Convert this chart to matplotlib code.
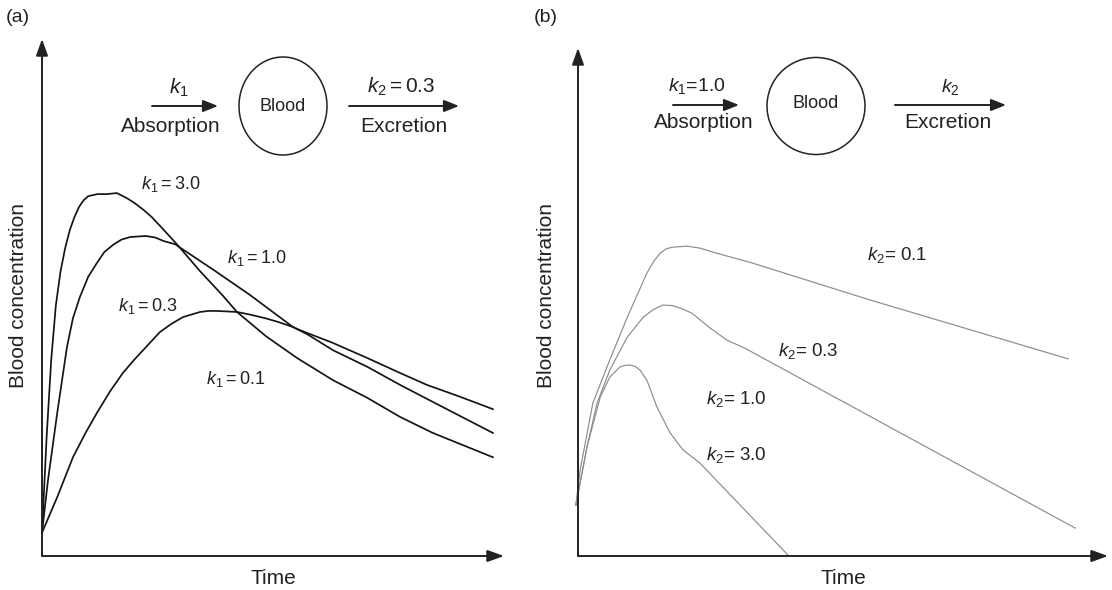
import matplotlib.pyplot as plt
from matplotlib.patches import Ellipse

plt.rcParams["font.family"] = ["Liberation Sans", "DejaVu Sans"]
plt.rcParams["mathtext.fontset"] = "custom"
plt.rcParams["mathtext.rm"] = "Liberation Sans"
plt.rcParams["mathtext.it"] = "Liberation Sans:italic"

W, H = 1112, 590

# panel (a): k2 = 0.3 fixed, absorption rate varies (arbitrary time / concentration units)
a_fast_t = [0.0, 0.1, 0.2, 0.3, 0.4, 0.5, 0.6, 0.7, 0.8, 0.9, 1.0, 1.2, 1.41, 1.62, 1.84,
            2.0, 2.19, 2.37, 2.55, 2.92, 3.42, 3.92, 4.22, 4.85, 5.52, 6.30, 7.04, 7.75,
            8.46, 9.76]
a_fast_c = [0.45, 2.3, 3.8, 4.85, 5.5, 5.95, 6.3, 6.55, 6.75, 6.88, 6.96, 7.00, 7.00, 7.02,
            6.92, 6.83, 6.70, 6.56, 6.39, 6.03, 5.51, 5.03, 4.72, 4.25, 3.83, 3.40, 3.06,
            2.69, 2.38, 1.91]
a_mid_t = [0.0, 0.13, 0.33, 0.54, 0.67, 0.82, 1.0, 1.19, 1.35, 1.54, 1.72, 1.91, 2.25, 2.45,
           2.64, 2.88, 3.72, 4.50, 5.43, 5.74, 6.30, 7.04, 7.75, 8.46, 9.76]
a_mid_c = [0.45, 1.47, 2.77, 4.04, 4.6, 5.01, 5.4, 5.67, 5.88, 6.02, 6.12, 6.17, 6.19, 6.16,
           6.09, 6.03, 5.53, 5.05, 4.43, 4.29, 3.98, 3.66, 3.31, 2.98, 2.38]
a_slow_t = [0.0, 0.33, 0.67, 0.93, 1.19, 1.47, 1.75, 2.0, 2.25, 2.55, 2.8, 3.05, 3.42, 3.6,
            3.79, 4.22, 4.5, 4.83, 5.1, 5.43, 5.58, 6.30, 7.04, 7.75, 8.33, 9.05, 9.76]
a_slow_c = [0.45, 1.14, 1.91, 2.36, 2.77, 3.18, 3.54, 3.80, 4.04, 4.33, 4.49, 4.62, 4.72,
            4.74, 4.74, 4.72, 4.67, 4.60, 4.53, 4.43, 4.37, 4.12, 3.83, 3.54, 3.31, 3.08,
            2.84]
a_labels = [r"$k_1 = 3.0$", r"$k_1 = 1.0$", r"$k_1 = 0.3$", r"$k_1 = 0.1$"]

# panel (b): k1 = 1.0 fixed, excretion rate varies
b_slow_t = [-0.04, 0.04, 0.28, 0.60, 0.93, 1.30, 1.43, 1.55, 1.67, 1.79, 2.06, 2.30, 2.62,
            3.28, 5.51, 9.25]
b_slow_c = [1.00, 1.69, 3.01, 3.86, 4.70, 5.57, 5.80, 5.96, 6.05, 6.08, 6.10, 6.06, 5.96,
            5.77, 5.04, 3.88]
b_mid_t = [-0.04, 0.17, 0.36, 0.60, 0.93, 1.23, 1.42, 1.60, 1.78, 1.93, 2.15, 2.49, 2.81,
           3.15, 9.38]
b_mid_c = [1.00, 2.15, 3.01, 3.66, 4.31, 4.70, 4.85, 4.94, 4.93, 4.88, 4.78, 4.49, 4.25,
           4.09, 0.55]
b_fast_t = [-0.04, 0.17, 0.42, 0.60, 0.79, 0.88, 0.98, 1.08, 1.17, 1.30, 1.49, 1.74, 1.98,
            2.30, 3.96]
b_fast_c = [1.00, 2.15, 3.13, 3.52, 3.72, 3.75, 3.76, 3.73, 3.66, 3.46, 2.93, 2.42, 2.09,
            1.83, 0.02]
b_labels = [r"$k_2$= 0.1", r"$k_2$= 0.3", r"$k_2$= 1.0", r"$k_2$= 3.0"]


def fxy(x, y):
    # pixel position in the 1112x590 picture -> figure fraction
    return x / W, 1 - y / H


def axis_arrows(ax):
    style = dict(arrowstyle="-|>,head_length=0.5,head_width=0.18", mutation_scale=20,
                 lw=1.4, color="#222222", shrinkA=0, shrinkB=0)
    ax.annotate("", xy=(1, 0), xytext=(0, 0), xycoords="axes fraction", arrowprops=style)
    ax.annotate("", xy=(0, 1), xytext=(0, 0), xycoords="axes fraction", arrowprops=style)


def scheme_arrow(fig, x0, x1, y):
    fig.add_artist(plt.Annotation(
        "", xy=fxy(x1, y), xytext=fxy(x0, y), xycoords="figure fraction",
        arrowprops=dict(arrowstyle="-|>,head_length=0.5,head_width=0.2", mutation_scale=18,
                        lw=1.4, color="#222222", shrinkA=0, shrinkB=0)))


def ftext(fig, x, y, s, size=14, **kw):
    fig.text(*fxy(x, y), s, fontsize=size, ha="center", va="center", color="#222222", **kw)


fig = plt.figure(figsize=(W / 100, H / 100), dpi=100)

ax_a = fig.add_axes([42 / W, (H - 556) / H, 462 / W, 517 / H])
ax_b = fig.add_axes([578 / W, (H - 556) / H, 530 / W, 508 / H])
for ax in (ax_a, ax_b):
    ax.set_xlim(0, 10)
    ax.set_ylim(0, 10)
    ax.axis("off")
    axis_arrows(ax)

for t, c in [(a_fast_t, a_fast_c), (a_mid_t, a_mid_c), (a_slow_t, a_slow_c)]:
    ax_a.plot(t, c, color="#151515", lw=1.25, clip_on=False, solid_joinstyle="round")
for t, c in [(b_slow_t, b_slow_c), (b_mid_t, b_mid_c), (b_fast_t, b_fast_c)]:
    ax_b.plot(t, c, color="#8c8c8c", lw=0.85, clip_on=False, solid_joinstyle="round")

# panel letters and axis titles
ftext(fig, 18, 18, "(a)", 14)
ftext(fig, 546, 18, "(b)", 14)
for x in (19, 546):
    ftext(fig, x, 296, "Blood concentration", 15, rotation=90)
ftext(fig, 273, 578, "Time", 15)
ftext(fig, 843, 578, "Time", 15)

# curve labels
for (x, y), s in zip([(171, 184), (257, 258), (148, 306), (236, 379)], a_labels):
    ftext(fig, x, y, s, 13)
for (x, y), s in zip([(897, 255), (808, 351), (736, 399), (736, 455)], b_labels):
    ftext(fig, x, y, s, 13.5)

# compartment schemes
fig.add_artist(Ellipse(fxy(283, 106), 88 / W, 98 / H, transform=fig.transFigure,
                       fill=False, lw=1.1, ec="#222222"))
ftext(fig, 283, 106, "Blood", 13)
scheme_arrow(fig, 152, 218, 106)
scheme_arrow(fig, 349, 459, 106)
ftext(fig, 179, 88, r"$k_1$", 15)
ftext(fig, 171, 126, "Absorption", 15)
ftext(fig, 401, 87, r"$k_2 = 0.3$", 15)
ftext(fig, 404, 126, "Excretion", 15)

fig.add_artist(Ellipse(fxy(816, 106), 98 / W, 97 / H, transform=fig.transFigure,
                       fill=False, lw=1.1, ec="#222222"))
ftext(fig, 816, 103, "Blood", 13)
scheme_arrow(fig, 673, 739, 105)
scheme_arrow(fig, 895, 1006, 105)
ftext(fig, 697, 86, r"$k_1$=1.0", 14)
ftext(fig, 704, 122, "Absorption", 15)
ftext(fig, 950, 87, r"$k_2$", 14)
ftext(fig, 948, 122, "Excretion", 15)

fig.savefig("out.png", dpi=100)
